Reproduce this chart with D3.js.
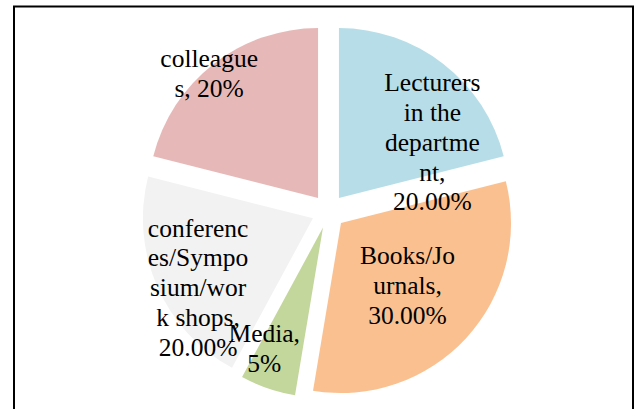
<!DOCTYPE html>
<html>
<head>
<meta charset="utf-8">
<script src="https://cdn.jsdelivr.net/npm/d3@7"></script>
<style>
  body { margin: 0; background: #fff; }
  svg { display: block; }
</style>
</head>
<body>
<div class="chart-div"></div>
<script>
//--------------------------- Data

var categories = ["Lecturers in the department", "Books/Journals", "Media", "conferences/Symposium/work shops", "colleagues"];
var values = [20, 30, 5, 20, 20];
var labelLines = [
    ["Lecturers", "in the", "departme", "nt,", "20.00%"],
    ["Books/Jo", "urnals,", "30.00%"],
    ["Media,", "5%"],
    ["conferenc", "es/Sympo", "sium/wor", "k shops,", "20.00%"],
    ["colleague", "s, 20%"]
];
var colors = ["#b7dee8", "#fac090", "#c3d69b", "#f2f2f2", "#e6b9b8"];

//--------------------------- SVG definition

var width = 635;
var height = 409;

var svg = d3.select("div.chart-div")
    .append("svg")
    .attr("width", width)
    .attr("height", height)

// chart border (bottom edge runs off the picture)
svg.append("rect")
    .attr("x", 14)
    .attr("y", 6.5)
    .attr("width", 619)
    .attr("height", 430)
    .style("fill", "none")
    .style("stroke", "#000")
    .style("stroke-width", 2)

//--------------------------- Constants definition

var cx = 328.5, cy = 211.5;
var radius = 170;
var explode = 17;
var fontSize = 25.5;
var lineH = 29.8;
var fontFamily = "'Liberation Serif'";

// label placement relative to each exploded slice centre: angle (deg) and distance
var labelPolar = [[59, 109], [133, 91], [206, 134], [239, 134], [319, 166]];

var pie = d3.pie().sort(null).value(function (d) { return d; });
var arc = d3.arc().innerRadius(0).outerRadius(radius);

var arcs = pie(values);

function shift(d) {
    var a = (d.startAngle + d.endAngle) / 2;
    return [Math.sin(a) * explode, -Math.cos(a) * explode];
}

var g = svg.append("g")
    .attr("transform", "translate(" + cx + "," + cy + ")")

//--------------- Slices

g.selectAll("path.slice")
    .data(arcs)
    .enter()
    .append("path")
    .attr("class", "slice")
    .attr("transform", function (d) { return "translate(" + shift(d) + ")"; })
    .attr("d", arc)
    .style("fill", function (d, i) { return colors[i]; })
    .style("stroke", "none")

//--------------- Labels (drawn on top of every slice), one text per line

var labels = g.selectAll("g.label")
    .data(arcs)
    .enter()
    .append("g")
    .attr("class", "label")
    .attr("transform", function (d, i) {
        var s = shift(d);
        var a = labelPolar[i][0] * Math.PI / 180;
        var r = labelPolar[i][1];
        return "translate(" + (s[0] + Math.sin(a) * r) + "," + (s[1] - Math.cos(a) * r) + ")";
    })

labels.each(function (d, i) {
    var lines = labelLines[i];
    d3.select(this).selectAll("text")
        .data(lines)
        .enter()
        .append("text")
        .attr("x", 0)
        .attr("y", function (l, k) { return (k - (lines.length - 1) / 2) * lineH + fontSize * 0.35; })
        .attr("text-anchor", "middle")
        .style("font-family", fontFamily)
        .style("font-size", fontSize + "px")
        .style("fill", "#000")
        .text(function (l) { return l; });
})
</script>
</body>
</html>
